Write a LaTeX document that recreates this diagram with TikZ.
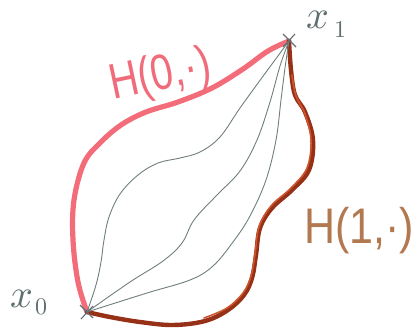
\documentclass[tikz,border=0pt]{standalone}
\usetikzlibrary{calc}
\usepackage{fontspec}
\setmainfont{Liberation Sans}
\usepackage{unicode-math}
\begin{document}
\begin{tikzpicture}[x=1pt,y=-1pt,
  redpath/.style={line width=5.2pt,draw={rgb,255:red,243;green,108;blue,122},line cap=round,line join=round},
  brownpath/.style={line width=4.4pt,draw={rgb,255:red,150;green,48;blue,22},line cap=round,line join=round},
  brownin/.style={line width=1.6pt,draw={rgb,255:red,205;green,85;blue,45},line cap=round},
  graypath/.style={line width=0.9pt,draw={rgb,255:red,112;green,126;blue,126},line cap=round},
  crossmark/.style={line width=1.1pt,draw={rgb,255:red,100;green,110;blue,115}},
  lbl/.style={inner sep=0pt,anchor=base west,text={rgb,255:red,95;green,110;blue,110}},
  hlabel/.style={inner sep=0pt,anchor=base west}]
\useasboundingbox (0,0) rectangle (413,333);
\coordinate (x0) at (87,312);
\coordinate (x1) at (289,41);
% red H(0,.)
\draw[redpath] plot[smooth,tension=0.6] coordinates {(x0) (78,282) (73,240) (74,200) (84,163) (100,143) (121,125) (146,112) (178,102) (212,88) (243,69) (268,51) (x1)};
% brown H(1,.)
\draw[brownpath] plot[smooth,tension=0.6] coordinates {(x1) (291,70) (295,95) (305,112) (313,140) (309,170) (292,190) (272,208) (260,228) (256,255) (252,278) (244,295) (228,310) (205,321) (173,325) (140,322) (110,317) (x0)};
\draw[brownin] plot[smooth,tension=0.6] coordinates {(292,75) (296,96) (305,114) (311,140) (307,168) (291,188) (271,206) (259,227) (255,254) (251,276) (243,293) (227,308) (204,318)};
% gray homotopies
\draw[graypath] plot[smooth,tension=0.6] coordinates {(x0) (96,285) (101,262) (104,240) (109,217) (120,194) (138,175) (158,163) (180,158) (200,152) (220,137) (240,108) (261,79) (x1)};
\draw[graypath] plot[smooth,tension=0.6] coordinates {(x0) (130,282) (163,261) (182,243) (194,220) (216,196) (240,171) (257,140) (270,102) (280,66) (x1)};
\draw[graypath] plot[smooth,tension=0.6] coordinates {(x0) (147,293) (190,280) (213,266) (233,242) (250,216) (266,180) (276,140) (281,100) (285,68) (x1)};
% crosses
\draw[crossmark] ($(x0)+(-7,-7)$) -- ($(x0)+(6,6)$) ($(x0)+(-6,7)$) -- ($(x0)+(6,-6)$);
\draw[crossmark] ($(x1)+(-6,-7)$) -- ($(x1)+(7,6)$) ($(x1)+(-6,6)$) -- ($(x1)+(6,-7)$);
% labels
\node[lbl,font=\fontsize{40}{40}\selectfont] (lx0) at (10,307) {$x$\hspace{2pt}\raisebox{-7pt}{\fontsize{24}{24}\selectfont$0$}};
\node[lbl,font=\fontsize{40}{40}\selectfont] (lx1) at (306,28) {$x$\hspace{5pt}\raisebox{-9pt}{\fontsize{24}{24}\selectfont$1$}};
\node[hlabel,rotate=12,text={rgb,255:red,240;green,108;blue,122},font=\fontsize{50}{50}\selectfont] (h0) at (113,100) {\scalebox{0.8}[1]{H(0,·)}};
\node[hlabel,text={rgb,255:red,178;green,120;blue,80},font=\fontsize{50}{50}\selectfont] (h1) at (304,243) {\scalebox{0.86}[1]{H(1,·)}};
\end{tikzpicture}
\end{document}
